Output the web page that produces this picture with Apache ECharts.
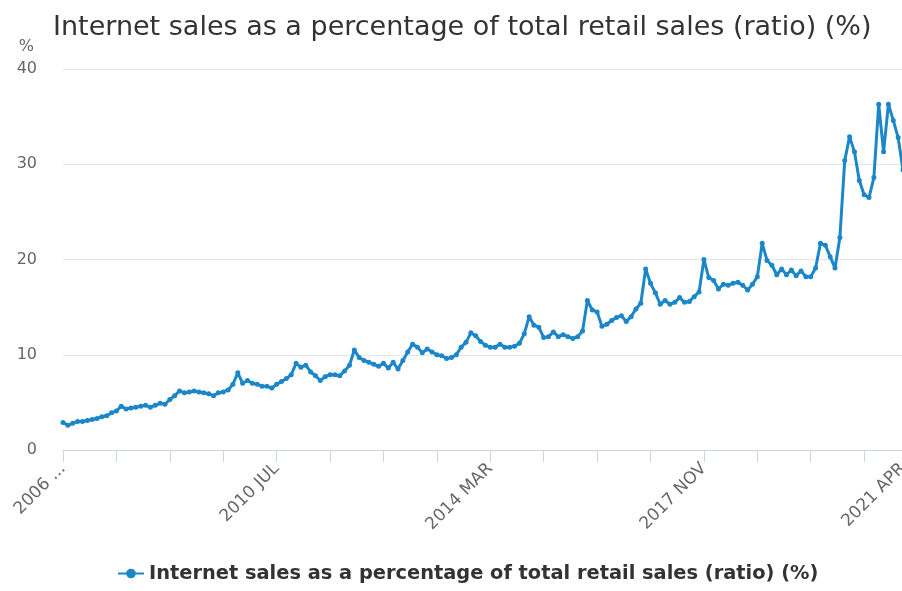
<!DOCTYPE html>
<html>
<head>
<meta charset="utf-8">
<script src="https://cdn.jsdelivr.net/npm/echarts@6/dist/echarts.min.js"></script>
<style>html,body{margin:0;padding:0;background:#fff;}#main{width:902px;height:591px;}</style>
</head>
<body>
<div id="main"></div>
<script>
const MONTHS = ['JAN','FEB','MAR','APR','MAY','JUN','JUL','AUG','SEP','OCT','NOV','DEC'];
// Nov 2006 .. Apr 2021
const categories = [];
for (let y = 2006, m = 10; y < 2021 || (y === 2021 && m <= 3); ) {
  categories.push(y + ' ' + MONTHS[m]);
  m++; if (m === 12) { m = 0; y++; }
}
const seriesName = 'Internet sales as a percentage of total retail sales (ratio) (%)';
const values = [
  2.9, 2.6, 2.8, 3.0, 3.0, 3.1, 3.2, 3.3, 3.5, 3.6, 3.9, 4.1,
  4.6, 4.3, 4.4, 4.5, 4.6, 4.7, 4.5, 4.7, 4.9, 4.8, 5.3, 5.7,
  6.2, 6.0, 6.1, 6.2, 6.1, 6.0, 5.9, 5.7, 6.0, 6.1, 6.3, 6.9,
  8.1, 7.0, 7.3, 7.0, 6.9, 6.7, 6.7, 6.5, 6.9, 7.2, 7.5, 7.9,
  9.1, 8.7, 8.9, 8.2, 7.8, 7.3, 7.7, 7.9, 7.9, 7.8, 8.3, 8.9,
  10.5, 9.7, 9.4, 9.2, 9.0, 8.8, 9.1, 8.6, 9.2, 8.5, 9.4, 10.3,
  11.1, 10.8, 10.2, 10.6, 10.3, 10.0, 9.9, 9.6, 9.7, 10.0, 10.8, 11.3,
  12.3, 12.0, 11.4, 11.0, 10.8, 10.8, 11.1, 10.8, 10.8, 10.9, 11.2, 12.2,
  14.0, 13.1, 12.9, 11.8, 11.9, 12.4, 11.9, 12.1, 11.9, 11.7, 11.9, 12.5,
  15.7, 14.7, 14.5, 13.0, 13.2, 13.6, 13.9, 14.1, 13.5, 14.0, 14.8, 15.4,
  19.0, 17.5, 16.5, 15.3, 15.7, 15.3, 15.5, 16.0, 15.5, 15.6, 16.1, 16.6,
  20.0, 18.1, 17.8, 16.9, 17.4, 17.3, 17.5, 17.6, 17.3, 16.8, 17.4, 18.2,
  21.7, 19.9, 19.4, 18.4, 19.0, 18.4, 18.9, 18.3, 18.8, 18.2, 18.2, 19.1,
  21.7, 21.5, 20.3, 19.1, 22.3, 30.4, 32.9, 31.3, 28.3, 26.8, 26.5, 28.6,
  36.3, 31.3, 36.3, 34.6, 32.8, 29.4
];
const yTicks = [0, 10, 20, 30, 40];

const chart = echarts.init(document.getElementById('main'), null, {renderer: 'canvas'});
const lastIdx = categories.length - 1;
chart.setOption({
  animation: false,
  backgroundColor: '#ffffff',
  title: {
    text: seriesName,
    left: 48, top: 9,
    textStyle: {fontFamily: 'DejaVu Sans', fontSize: 27, fontWeight: 'normal', color: '#333333'}
  },
  legend: {
    bottom: 3, left: 112,
    itemWidth: 26, itemHeight: 12, itemGap: 8,
    textStyle: {fontFamily: 'DejaVu Sans', fontSize: 19.4, color: '#333333', fontWeight: 'bold'},
    data: [seriesName]
  },
  grid: {left: 63, right: -1, top: 69, bottom: 141, containLabel: false, outerBoundsMode: 'none'},
  xAxis: {
    type: 'category',
    data: categories,
    boundaryGap: false,
    axisLine: {lineStyle: {color: '#ccd6eb', width: 1}},
    axisTick: {show: true, length: 12, lineStyle: {color: '#ccd6eb'}, interval: (i) => i % 11 === 0},
    axisLabel: {
      rotate: 45,
      fontFamily: 'DejaVu Sans', fontSize: 17, color: '#666666',
      interval: (i) => i % 44 === 0 || i === lastIdx,
      formatter: (v, i) => i === 0 ? v.slice(0, 4) + ' ...' : v,
      margin: 16
    },
    splitLine: {show: false}
  },
  yAxis: {
    type: 'value',
    min: yTicks[0], max: yTicks[yTicks.length - 1], interval: 10,
    name: '%',
    nameLocation: 'end',
    nameGap: 14,
    nameTextStyle: {fontFamily: 'DejaVu Sans', fontSize: 16, color: '#666666', align: 'right', padding: [0, 29, 0, 0]},
    axisLine: {show: false},
    axisTick: {show: false},
    axisLabel: {fontFamily: 'DejaVu Sans', fontSize: 16, color: '#666666', margin: 26},
    splitLine: {lineStyle: {color: '#e6e6e6', width: 1}}
  },
  series: [{
    name: seriesName,
    type: 'line',
    data: values,
    symbol: 'circle',
    symbolSize: 5,
    showAllSymbol: true,
    lineStyle: {color: '#1b86c8', width: 3},
    itemStyle: {color: '#1b86c8'}
  }]
});
</script>
</body>
</html>
